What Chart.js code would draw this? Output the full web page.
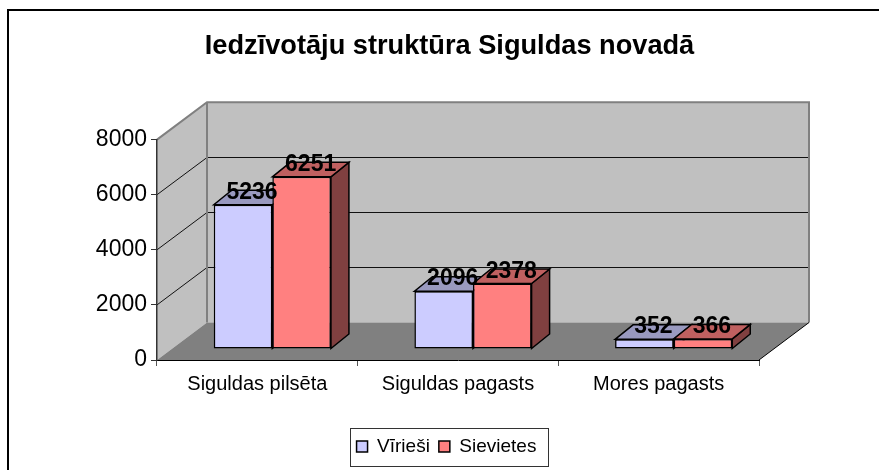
<!DOCTYPE html>
<html><head><meta charset="utf-8">
<style>html,body{margin:0;padding:0;background:#fff}#w{position:relative;width:879px;height:470px}canvas{display:block}</style>
<script src="https://cdn.jsdelivr.net/npm/chart.js@4/dist/chart.umd.js"></script></head>
<body><div id="w"><canvas id="c" width="879" height="470"></canvas></div>
<script>
const categories=["Siguldas pilsēta","Siguldas pagasts","Mores pagasts"];
const virieši=[5236,2096,352];
const sievietes=[6251,2378,366];
const yTicks=[0,2000,4000,6000,8000];
const chartTitle="Iedzīvotāju struktūra Siguldas novadā";
const FONT='"Liberation Sans",Arial,sans-serif';
const WALL={dx:50,dy:-37.5};
const BARFRONT={dx:15,dy:-11};
const BARDEPTH={dx:18,dy:-14.5};
const shades=[{top:'#9999bf',side:'#666699'},{top:'#bf6060',side:'#804040'}];
function poly(ctx,pts,fill,stroke,lw){ctx.beginPath();pts.forEach((p,i)=>i?ctx.lineTo(p[0],p[1]):ctx.moveTo(p[0],p[1]));ctx.closePath();
 if(fill){ctx.fillStyle=fill;ctx.fill();}
 if(stroke){ctx.strokeStyle=stroke;ctx.lineWidth=lw;ctx.stroke();}}
const walls={id:'walls',
afterLayout(ch){
 ch.titleBlock.left+=25;ch.titleBlock.right+=25;
 ch.legend.left+=22;ch.legend.right+=22;
},
beforeDraw(ch){
 const {ctx,chartArea:a,scales:{y}}=ch;const d=WALL;
 ctx.save();
 poly(ctx,[[a.left,a.top],[a.left+d.dx,a.top+d.dy],[a.left+d.dx,a.bottom+d.dy],[a.left,a.bottom]],'#c0c0c0');
 poly(ctx,[[a.left+d.dx,a.top+d.dy],[a.right+d.dx,a.top+d.dy],[a.right+d.dx,a.bottom+d.dy],[a.left+d.dx,a.bottom+d.dy]],'#c0c0c0');
 poly(ctx,[[a.left,a.bottom],[a.left+d.dx,a.bottom+d.dy],[a.right+d.dx,a.bottom+d.dy],[a.right,a.bottom]],'#808080');
 ctx.strokeStyle='#111';ctx.lineWidth=1;
 y.ticks.forEach(t=>{if(t.value===0||t.value===8000)return;const py=y.getPixelForValue(t.value);const by=Math.round(py+d.dy)+.5;
  ctx.beginPath();ctx.moveTo(a.left,py);ctx.lineTo(a.left+d.dx,by);ctx.lineTo(a.right+d.dx,by);ctx.stroke();});
 ctx.strokeStyle='#808080';ctx.lineWidth=2;
 ctx.beginPath();ctx.moveTo(a.left,a.top);ctx.lineTo(a.left+d.dx,a.top+d.dy);ctx.lineTo(a.right+d.dx,a.top+d.dy);ctx.lineTo(a.right+d.dx,a.bottom+d.dy);ctx.stroke();
 ctx.beginPath();ctx.moveTo(a.left+d.dx,a.top+d.dy);ctx.lineTo(a.left+d.dx,a.bottom+d.dy);ctx.stroke();
 ctx.strokeStyle='#000';ctx.lineWidth=1;
 ctx.beginPath();ctx.moveTo(a.right,a.bottom);ctx.lineTo(a.right+d.dx,a.bottom+d.dy);ctx.stroke();
 ctx.restore();
},
beforeDatasetsDraw(ch){
 const {ctx}=ch;ctx.save();ctx.translate(BARFRONT.dx,BARFRONT.dy);
 const d=BARDEPTH;
 ch.data.datasets.forEach((ds,i)=>{ch.getDatasetMeta(i).data.forEach(b=>{
  const l=b.x-b.width/2,r=b.x+b.width/2,t=b.y,bo=b.base;
  poly(ctx,[[r,t],[r+d.dx,t+d.dy],[r+d.dx,bo+d.dy],[r,bo]],shades[i].side,'#000',1.5);
  poly(ctx,[[l,t],[l+d.dx,t+d.dy],[r+d.dx,t+d.dy],[r,t]],shades[i].top,'#000',1.5);
 });});
},
afterDatasetsDraw(ch){
 const {ctx}=ch;ctx.restore();
 ctx.save();ctx.font='bold 23px '+FONT;ctx.fillStyle='#000';ctx.textAlign='center';ctx.textBaseline='middle';
 ch.data.datasets.forEach((ds,i)=>{ch.getDatasetMeta(i).data.forEach((b,j)=>{
  ctx.fillText(String(ds.data[j]),b.x+BARFRONT.dx+BARDEPTH.dx/2,b.y+BARFRONT.dy+BARDEPTH.dy/2-5);
 });});
 ctx.restore();
},
afterDraw(ch){
 const {ctx}=ch;ctx.save();
 ctx.strokeStyle='#000';ctx.lineWidth=2;
 ctx.beginPath();ctx.moveTo(8,470);ctx.lineTo(8,10);ctx.lineTo(879,10);ctx.stroke();
 ctx.lineWidth=1;ctx.strokeStyle='#333';
 ctx.strokeRect(350.5,428.5,198,38);
 ctx.restore();
}};
new Chart(document.getElementById('c'),{type:'bar',plugins:[walls],
 data:{labels:categories,datasets:[
  {label:'Vīrieši',data:virieši,backgroundColor:'#ccccff',borderColor:'#000',borderWidth:1.5,borderSkipped:false},
  {label:'Sievietes',data:sievietes,backgroundColor:'#ff8080',borderColor:'#000',borderWidth:1.5,borderSkipped:false}]},
 options:{responsive:false,animation:false,
  layout:{padding:{left:90,right:120,top:0,bottom:4}},
  datasets:{bar:{categoryPercentage:0.584,barPercentage:1}},
  scales:{
   x:{grid:{display:true,drawOnChartArea:false,drawTicks:true,tickLength:6,color:'#555',offset:true},border:{color:'#000',width:1},
      ticks:{color:'#000',font:{family:FONT,size:20},padding:6,maxRotation:0},afterFit(s){s.height=68;}},
   y:{min:0,max:8000,afterBuildTicks(s){s.ticks=yTicks.map(v=>({value:v}));},
      grid:{display:true,drawOnChartArea:false,drawTicks:true,tickLength:6,color:'#333'},border:{color:'#333',width:1.5},
      ticks:{color:'#000',font:{family:FONT,size:23},padding:4,callback:v=>String(v)},afterFit(s){s.width=67;}}
  },
  plugins:{
   title:{display:true,text:chartTitle,color:'#000',font:{family:FONT,size:27.2,weight:'bold'},padding:{top:30,bottom:77}},
   legend:{display:true,position:'bottom',labels:{color:'#000',font:{family:FONT,size:19},boxWidth:11,boxHeight:11,padding:9},onClick:null},
   tooltip:{enabled:false}
  }}});
</script></body></html>
